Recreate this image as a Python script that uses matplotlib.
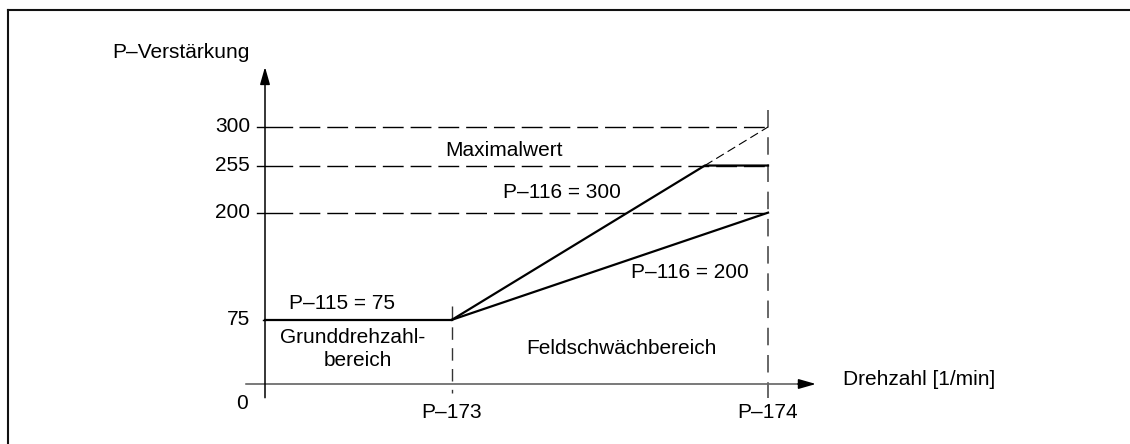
import numpy as np
import matplotlib
matplotlib.use("Agg")
import matplotlib.pyplot as plt
from matplotlib.lines import Line2D

plt.rcParams['font.family'] = ['Liberation Sans', 'DejaVu Sans']
FS = 15

# speed axis: 0, P-173 (Grunddrehzahl), P-174 (max)
speed_names = ['P\u2013173', 'P\u2013174']
speed_pos = [1.0, 2.69]
# gain axis ticks
gain_ticks = [0, 75, 200, 255, 300]
gain_base = 75          # P-115
gain_end = [300, 200]   # P-116 variants
gain_max = 255          # Maximalwert

x173, x174 = speed_pos

fig = plt.figure(figsize=(11.30, 4.44), dpi=100)
ax = fig.add_axes([0, 0, 1, 1])
ax.set_xlim(-265 / 187, (1130 - 265) / 187)
ax.set_ylim(-60 / 0.8567, 384 / 0.8567)
ax.axis('off')

# frame (top and left only)
fig.add_artist(Line2D([8 / 1130, 1.0], [1 - 10 / 444, 1 - 10 / 444], color='#111', lw=1.5))
fig.add_artist(Line2D([8 / 1130, 8 / 1130], [0, 1 - 10 / 444], color='#111', lw=1.5))

# axes arrows
arrow = dict(arrowstyle='-|>,head_length=0.7,head_width=0.2',
             mutation_scale=15, color='black', lw=1.1, shrinkA=0, shrinkB=0)
ax.annotate('', xy=(0, 370), xytext=(0, -16), arrowprops=arrow)
ax.plot([-0.10, 2.88], [0, 0], color='#555', lw=1.1)
ax.annotate('', xy=(2.946, 0), xytext=(2.85, 0), arrowprops=arrow)

# horizontal reference lines
for g in gain_ticks[2:]:
    ax.plot([-0.043, 0.145], [g, g], color='black', lw=1.0)
    ax.plot([0.18, x174], [g, g], color='black', lw=1.0, dashes=(15, 5))

# tick at 75
ax.plot([-0.01, 0], [gain_base, gain_base], color='black', lw=1.0)

# vertical dashed lines at P-173 / P-174 (drawn top-down)
ax.plot([x173, x173], [91, -10], color='#333', lw=1.0, dashes=(9, 6))
ax.plot([x174, x174], [320, -16], color='#666', lw=1.4, dashes=(9, 5))

# base gain
ax.plot([0, x173], [gain_base, gain_base], color='black', lw=1.6)

# P-116 = 300, limited to 255
x_cap = np.interp(gain_max, [gain_base, gain_end[0]], [x173, x174])
ax.plot([x173, x_cap, x174], [gain_base, gain_max, gain_max], color='black', lw=1.6)
ax.plot([x_cap, x174], [gain_max, gain_end[0]], color='black', lw=0.8, dashes=(8, 4))

# P-116 = 200
ax.plot([x173, x174], [gain_base, gain_end[1]], color='black', lw=1.6)

# texts
ax.text(-0.818, 387.5, 'P\u2013Verst\u00e4rkung', fontsize=FS, ha='left', va='center')
for g in gain_ticks[1:]:
    ax.text(-0.080, g, str(g), fontsize=FS, ha='right', va='center')
ax.text(-0.09, -23.3, '0', fontsize=FS, ha='right', va='center')
for name, xp in zip(speed_names, speed_pos):
    ax.text(xp, -32.7, name, fontsize=FS, ha='center', va='center')

ax.text(1.278, 273, 'Maximalwert', fontsize=FS, ha='center', va='center')
ax.text(1.588, 223, 'P\u2013116 = 300', fontsize=FS, ha='center', va='center')
ax.text(2.273, 129.6, 'P\u2013116 = 200', fontsize=FS, ha='center', va='center')
ax.text(1.904, 42, 'Feldschw\u00e4chbereich', fontsize=FS, ha='center', va='center')
ax.text(0.412, 93.4, 'P\u2013115 = 75', fontsize=FS, ha='center', va='center')
ax.text(0.470, 53.7, 'Grunddrehzahl-', fontsize=FS, ha='center', va='center')
ax.text(0.497, 28, 'bereich', fontsize=FS, ha='center', va='center')
ax.text(3.09, 5.8, 'Drehzahl [1/min]', fontsize=FS, ha='left', va='center')

fig.savefig('out.png', dpi=100)
